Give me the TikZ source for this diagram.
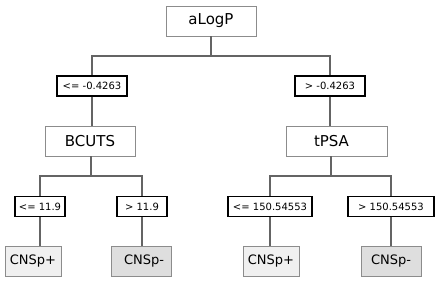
\documentclass[tikz,border=0pt]{standalone}
\usepackage{fontspec}
\setmainfont{DejaVu Sans}
\usepackage{tikz}
\usetikzlibrary{positioning, calc}
\definecolor{edgegrey}{RGB}{100,100,100}
\definecolor{boxgrey}{RGB}{140,140,140}
\definecolor{leafpos}{RGB}{240,240,240}
\definecolor{leafneg}{RGB}{222,222,222}
\tikzset{
  split/.style={rectangle, draw=boxgrey, fill=white,
    minimum height=30pt, inner sep=0pt,
    font=\fontsize{15}{18}\selectfont, line width=0.9pt},
  cond/.style={rectangle, draw=black, fill=white,
    minimum height=20pt, inner sep=0pt,
    font=\fontsize{10}{12}\selectfont, line width=1.1pt},
  leafp/.style={rectangle, draw=boxgrey, fill=leafpos,
    minimum width=56pt, minimum height=30pt, inner sep=0pt,
    font=\fontsize{13}{15}\selectfont, line width=0.9pt},
  leafn/.style={rectangle, draw=boxgrey, fill=leafneg,
    minimum width=60pt, minimum height=30pt, inner sep=0pt,
    font=\fontsize{13}{15}\selectfont, line width=0.9pt},
  edge/.style={draw=edgegrey, line width=1.3pt}
}
\begin{document}
\begin{tikzpicture}[x=1pt, y=-1pt]
  \useasboundingbox[fill=white] (0,0) rectangle (442,283);

  % root split
  \node[split, minimum width=90pt] (alogp) at (211,21) {aLogP};
  \coordinate (j0) at (211,56);

  % first conditions
  \node[cond, minimum width=70pt] (le1) at (92,86) {<= -0.4263};
  \node[cond, minimum width=70pt] (gt1) at (330,86) {> -0.4263};

  % second splits
  \node[split, minimum width=90pt] (bcuts) at (90,141) {BCUTS};
  \node[split, minimum width=101pt, text width=90pt, align=center] (tpsa) at (336.5,141) {\hspace*{-10pt}tPSA};
  \coordinate (j1) at (91,176);
  \coordinate (j2) at (331,176);

  % second conditions
  \node[cond, minimum width=50pt] (le2) at (40,206.5) {<= 11.9};
  \node[cond, minimum width=50pt] (gt2) at (142,206.5) {> 11.9};
  \node[cond, minimum width=84pt] (le3) at (270,206.5) {<= 150.54553};
  \node[cond, minimum width=86pt] (gt3) at (391,206.5) {> 150.54553};

  % leaves
  \node[leafp] (cnsa) at (33,261) {CNSp+};
  \node[leafn] (cnsb) at (141,261) {\hspace*{6pt}CNSp-};
  \node[leafp] (cnsc) at (271,261) {CNSp+};
  \node[leafn] (cnsd) at (391,261) {CNSp-};

  % connectors
  \draw[edge] (alogp.south) -- (j0);
  \draw[edge] (j0) -| (le1.north);
  \draw[edge] (j0) -| (gt1.north);
  \draw[edge] (le1.south) -- (le1.south |- bcuts.north);
  \draw[edge] (gt1.south) -- (gt1.south |- tpsa.north);
  \draw[edge] (bcuts.south -| j1) -- (j1);
  \draw[edge] (tpsa.south -| j2) -- (j2);
  \draw[edge] (j1) -| (le2.north);
  \draw[edge] (j1) -| (gt2.north);
  \draw[edge] (j2) -| (le3.north);
  \draw[edge] (j2) -| (gt3.north);
  \draw[edge] (le2.south) -- (le2.south |- cnsa.north);
  \draw[edge] (gt2.south) -- (gt2.south |- cnsb.north);
  \draw[edge] (le3.south) -- (le3.south |- cnsc.north);
  \draw[edge] (gt3.south) -- (gt3.south |- cnsd.north);
\end{tikzpicture}
\end{document}
